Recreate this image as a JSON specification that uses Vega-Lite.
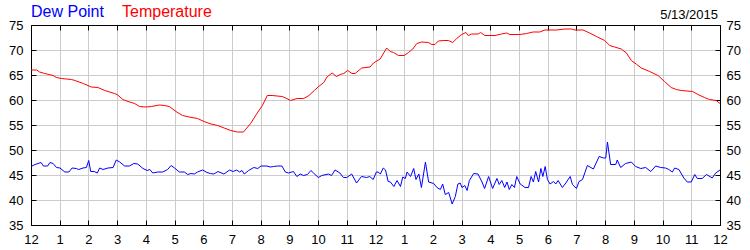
{
  "$schema": "https://vega.github.io/schema/vega-lite/v6.json",
  "width": 689,
  "height": 200,
  "autosize": {"type": "none"},
  "padding": {"left": 31, "top": 25, "right": 30, "bottom": 25},
  "background": "white",
  "config": {
    "view": {"stroke": "black", "strokeWidth": 1},
    "font": "Liberation Sans",
    "axis": {
      "labelFont": "Liberation Sans",
      "labelFontSize": 13,
      "labelColor": "black",
      "tickColor": "black",
      "domainColor": "black",
      "gridColor": "#cccccc",
      "gridOpacity": 1,
      "title": null,
      "labelFlush": false,
      "labelOverlap": false
    }
  },
  "title": {
    "text": "5/13/2015",
    "anchor": "end",
    "frame": "group",
    "offset": 0,
    "baseline": "alphabetic",
    "dy": 28,
    "dx": -2,
    "fontSize": 13,
    "fontWeight": "normal",
    "font": "Liberation Sans",
    "color": "black"
  },
  "data": {
    "values": [
      {"s": "Temperature", "h": 0, "v": 66.0},
      {"s": "Temperature", "h": 0.2, "v": 66.0},
      {"s": "Temperature", "h": 0.3, "v": 65.6},
      {"s": "Temperature", "h": 0.48, "v": 65.3},
      {"s": "Temperature", "h": 0.77, "v": 64.9},
      {"s": "Temperature", "h": 0.89, "v": 64.5},
      {"s": "Temperature", "h": 1.06, "v": 64.3},
      {"s": "Temperature", "h": 1.41, "v": 64.1},
      {"s": "Temperature", "h": 1.53, "v": 63.9},
      {"s": "Temperature", "h": 1.82, "v": 63.3},
      {"s": "Temperature", "h": 2.1, "v": 62.6},
      {"s": "Temperature", "h": 2.33, "v": 62.5},
      {"s": "Temperature", "h": 2.57, "v": 61.9},
      {"s": "Temperature", "h": 2.91, "v": 61.3},
      {"s": "Temperature", "h": 3.0, "v": 61.1},
      {"s": "Temperature", "h": 3.2, "v": 60.1},
      {"s": "Temperature", "h": 3.38, "v": 59.7},
      {"s": "Temperature", "h": 3.61, "v": 59.3},
      {"s": "Temperature", "h": 3.78, "v": 58.7},
      {"s": "Temperature", "h": 4.01, "v": 58.6},
      {"s": "Temperature", "h": 4.19, "v": 58.7},
      {"s": "Temperature", "h": 4.47, "v": 59.0},
      {"s": "Temperature", "h": 4.65, "v": 58.9},
      {"s": "Temperature", "h": 4.82, "v": 58.7},
      {"s": "Temperature", "h": 5.05, "v": 57.7},
      {"s": "Temperature", "h": 5.28, "v": 56.9},
      {"s": "Temperature", "h": 5.51, "v": 56.6},
      {"s": "Temperature", "h": 5.8, "v": 56.3},
      {"s": "Temperature", "h": 6.03, "v": 55.7},
      {"s": "Temperature", "h": 6.27, "v": 55.2},
      {"s": "Temperature", "h": 6.5, "v": 54.9},
      {"s": "Temperature", "h": 6.73, "v": 54.4},
      {"s": "Temperature", "h": 6.96, "v": 53.9},
      {"s": "Temperature", "h": 7.19, "v": 53.6},
      {"s": "Temperature", "h": 7.4, "v": 53.6},
      {"s": "Temperature", "h": 7.65, "v": 55.3},
      {"s": "Temperature", "h": 7.88, "v": 57.4},
      {"s": "Temperature", "h": 8.06, "v": 58.9},
      {"s": "Temperature", "h": 8.23, "v": 60.9},
      {"s": "Temperature", "h": 8.4, "v": 60.9},
      {"s": "Temperature", "h": 8.75, "v": 60.7},
      {"s": "Temperature", "h": 8.87, "v": 60.4},
      {"s": "Temperature", "h": 9.04, "v": 59.9},
      {"s": "Temperature", "h": 9.27, "v": 60.3},
      {"s": "Temperature", "h": 9.5, "v": 60.3},
      {"s": "Temperature", "h": 9.68, "v": 60.9},
      {"s": "Temperature", "h": 9.87, "v": 61.9},
      {"s": "Temperature", "h": 10.02, "v": 62.7},
      {"s": "Temperature", "h": 10.2, "v": 63.5},
      {"s": "Temperature", "h": 10.31, "v": 64.6},
      {"s": "Temperature", "h": 10.49, "v": 65.4},
      {"s": "Temperature", "h": 10.64, "v": 64.7},
      {"s": "Temperature", "h": 10.77, "v": 65.1},
      {"s": "Temperature", "h": 10.89, "v": 65.3},
      {"s": "Temperature", "h": 11.03, "v": 65.9},
      {"s": "Temperature", "h": 11.18, "v": 65.3},
      {"s": "Temperature", "h": 11.29, "v": 65.3},
      {"s": "Temperature", "h": 11.52, "v": 66.4},
      {"s": "Temperature", "h": 11.81, "v": 66.6},
      {"s": "Temperature", "h": 11.93, "v": 67.4},
      {"s": "Temperature", "h": 12.16, "v": 68.2},
      {"s": "Temperature", "h": 12.39, "v": 70.4},
      {"s": "Temperature", "h": 12.51, "v": 69.7},
      {"s": "Temperature", "h": 12.63, "v": 69.5},
      {"s": "Temperature", "h": 12.8, "v": 68.9},
      {"s": "Temperature", "h": 13.0, "v": 68.9},
      {"s": "Temperature", "h": 13.15, "v": 69.5},
      {"s": "Temperature", "h": 13.3, "v": 70.2},
      {"s": "Temperature", "h": 13.44, "v": 71.3},
      {"s": "Temperature", "h": 13.61, "v": 71.6},
      {"s": "Temperature", "h": 13.84, "v": 71.5},
      {"s": "Temperature", "h": 13.96, "v": 71.1},
      {"s": "Temperature", "h": 14.07, "v": 71.1},
      {"s": "Temperature", "h": 14.19, "v": 71.8},
      {"s": "Temperature", "h": 14.36, "v": 71.9},
      {"s": "Temperature", "h": 14.54, "v": 71.9},
      {"s": "Temperature", "h": 14.69, "v": 71.5},
      {"s": "Temperature", "h": 14.83, "v": 72.3},
      {"s": "Temperature", "h": 15.0, "v": 73.1},
      {"s": "Temperature", "h": 15.15, "v": 73.5},
      {"s": "Temperature", "h": 15.23, "v": 72.9},
      {"s": "Temperature", "h": 15.35, "v": 73.2},
      {"s": "Temperature", "h": 15.58, "v": 73.2},
      {"s": "Temperature", "h": 15.66, "v": 73.5},
      {"s": "Temperature", "h": 15.81, "v": 72.9},
      {"s": "Temperature", "h": 16.16, "v": 72.9},
      {"s": "Temperature", "h": 16.39, "v": 73.2},
      {"s": "Temperature", "h": 16.57, "v": 73.4},
      {"s": "Temperature", "h": 16.68, "v": 73.1},
      {"s": "Temperature", "h": 17.03, "v": 73.1},
      {"s": "Temperature", "h": 17.26, "v": 73.3},
      {"s": "Temperature", "h": 17.49, "v": 73.6},
      {"s": "Temperature", "h": 17.72, "v": 73.6},
      {"s": "Temperature", "h": 17.9, "v": 74.0},
      {"s": "Temperature", "h": 18.3, "v": 74.0},
      {"s": "Temperature", "h": 18.6, "v": 74.2},
      {"s": "Temperature", "h": 18.83, "v": 74.2},
      {"s": "Temperature", "h": 18.94, "v": 74.0},
      {"s": "Temperature", "h": 19.23, "v": 74.0},
      {"s": "Temperature", "h": 19.46, "v": 73.4},
      {"s": "Temperature", "h": 19.7, "v": 72.7},
      {"s": "Temperature", "h": 19.98, "v": 71.9},
      {"s": "Temperature", "h": 20.16, "v": 70.9},
      {"s": "Temperature", "h": 20.33, "v": 70.6},
      {"s": "Temperature", "h": 20.56, "v": 70.2},
      {"s": "Temperature", "h": 20.74, "v": 69.4},
      {"s": "Temperature", "h": 20.91, "v": 67.9},
      {"s": "Temperature", "h": 21.08, "v": 67.2},
      {"s": "Temperature", "h": 21.26, "v": 66.4},
      {"s": "Temperature", "h": 21.55, "v": 65.7},
      {"s": "Temperature", "h": 21.84, "v": 64.9},
      {"s": "Temperature", "h": 22.07, "v": 63.7},
      {"s": "Temperature", "h": 22.3, "v": 62.5},
      {"s": "Temperature", "h": 22.48, "v": 62.1},
      {"s": "Temperature", "h": 22.65, "v": 61.9},
      {"s": "Temperature", "h": 23.05, "v": 61.7},
      {"s": "Temperature", "h": 23.23, "v": 61.1},
      {"s": "Temperature", "h": 23.46, "v": 60.5},
      {"s": "Temperature", "h": 23.63, "v": 60.1},
      {"s": "Temperature", "h": 23.87, "v": 59.9},
      {"s": "Temperature", "h": 24, "v": 59.3},
      {"s": "Dew Point", "h": 0, "v": 46.7},
      {"s": "Dew Point", "h": 0.14, "v": 47.1},
      {"s": "Dew Point", "h": 0.35, "v": 47.5},
      {"s": "Dew Point", "h": 0.43, "v": 46.8},
      {"s": "Dew Point", "h": 0.58, "v": 46.8},
      {"s": "Dew Point", "h": 0.66, "v": 47.5},
      {"s": "Dew Point", "h": 0.77, "v": 47.3},
      {"s": "Dew Point", "h": 0.89, "v": 46.5},
      {"s": "Dew Point", "h": 1.01, "v": 46.4},
      {"s": "Dew Point", "h": 1.18, "v": 45.6},
      {"s": "Dew Point", "h": 1.32, "v": 45.6},
      {"s": "Dew Point", "h": 1.43, "v": 46.4},
      {"s": "Dew Point", "h": 1.58, "v": 46.3},
      {"s": "Dew Point", "h": 1.66, "v": 46.1},
      {"s": "Dew Point", "h": 1.81, "v": 46.4},
      {"s": "Dew Point", "h": 1.93, "v": 46.5},
      {"s": "Dew Point", "h": 2.01, "v": 47.9},
      {"s": "Dew Point", "h": 2.08, "v": 45.7},
      {"s": "Dew Point", "h": 2.2, "v": 45.7},
      {"s": "Dew Point", "h": 2.31, "v": 45.4},
      {"s": "Dew Point", "h": 2.39, "v": 46.4},
      {"s": "Dew Point", "h": 2.51, "v": 46.1},
      {"s": "Dew Point", "h": 2.68, "v": 46.4},
      {"s": "Dew Point", "h": 2.86, "v": 46.5},
      {"s": "Dew Point", "h": 2.97, "v": 48.0},
      {"s": "Dew Point", "h": 3.09, "v": 47.6},
      {"s": "Dew Point", "h": 3.26, "v": 46.8},
      {"s": "Dew Point", "h": 3.43, "v": 46.8},
      {"s": "Dew Point", "h": 3.58, "v": 47.3},
      {"s": "Dew Point", "h": 3.72, "v": 47.2},
      {"s": "Dew Point", "h": 3.9, "v": 46.3},
      {"s": "Dew Point", "h": 4.05, "v": 45.9},
      {"s": "Dew Point", "h": 4.14, "v": 46.1},
      {"s": "Dew Point", "h": 4.24, "v": 45.4},
      {"s": "Dew Point", "h": 4.42, "v": 45.6},
      {"s": "Dew Point", "h": 4.59, "v": 45.6},
      {"s": "Dew Point", "h": 4.76, "v": 46.1},
      {"s": "Dew Point", "h": 4.88, "v": 46.9},
      {"s": "Dew Point", "h": 5.0, "v": 46.4},
      {"s": "Dew Point", "h": 5.17, "v": 45.6},
      {"s": "Dew Point", "h": 5.34, "v": 45.6},
      {"s": "Dew Point", "h": 5.46, "v": 45.1},
      {"s": "Dew Point", "h": 5.57, "v": 45.3},
      {"s": "Dew Point", "h": 5.69, "v": 45.2},
      {"s": "Dew Point", "h": 5.8, "v": 45.6},
      {"s": "Dew Point", "h": 5.98, "v": 46.0},
      {"s": "Dew Point", "h": 6.13, "v": 45.5},
      {"s": "Dew Point", "h": 6.25, "v": 45.3},
      {"s": "Dew Point", "h": 6.37, "v": 45.2},
      {"s": "Dew Point", "h": 6.51, "v": 45.7},
      {"s": "Dew Point", "h": 6.72, "v": 45.2},
      {"s": "Dew Point", "h": 6.92, "v": 46.0},
      {"s": "Dew Point", "h": 7.04, "v": 45.7},
      {"s": "Dew Point", "h": 7.16, "v": 46.0},
      {"s": "Dew Point", "h": 7.27, "v": 45.6},
      {"s": "Dew Point", "h": 7.35, "v": 45.9},
      {"s": "Dew Point", "h": 7.43, "v": 45.2},
      {"s": "Dew Point", "h": 7.58, "v": 45.9},
      {"s": "Dew Point", "h": 7.76, "v": 46.5},
      {"s": "Dew Point", "h": 7.9, "v": 46.3},
      {"s": "Dew Point", "h": 8.01, "v": 46.8},
      {"s": "Dew Point", "h": 8.22, "v": 46.8},
      {"s": "Dew Point", "h": 8.33, "v": 46.6},
      {"s": "Dew Point", "h": 8.45, "v": 46.7},
      {"s": "Dew Point", "h": 8.59, "v": 46.8},
      {"s": "Dew Point", "h": 8.74, "v": 46.8},
      {"s": "Dew Point", "h": 8.86, "v": 45.6},
      {"s": "Dew Point", "h": 8.97, "v": 45.4},
      {"s": "Dew Point", "h": 9.14, "v": 45.7},
      {"s": "Dew Point", "h": 9.26, "v": 44.7},
      {"s": "Dew Point", "h": 9.38, "v": 45.2},
      {"s": "Dew Point", "h": 9.49, "v": 44.9},
      {"s": "Dew Point", "h": 9.63, "v": 45.1},
      {"s": "Dew Point", "h": 9.75, "v": 45.9},
      {"s": "Dew Point", "h": 9.84, "v": 45.4},
      {"s": "Dew Point", "h": 10.01, "v": 44.5},
      {"s": "Dew Point", "h": 10.13, "v": 44.9},
      {"s": "Dew Point", "h": 10.36, "v": 45.2},
      {"s": "Dew Point", "h": 10.47, "v": 44.9},
      {"s": "Dew Point", "h": 10.59, "v": 46.0},
      {"s": "Dew Point", "h": 10.76, "v": 45.4},
      {"s": "Dew Point", "h": 10.88, "v": 44.5},
      {"s": "Dew Point", "h": 11.0, "v": 44.5},
      {"s": "Dew Point", "h": 11.17, "v": 45.2},
      {"s": "Dew Point", "h": 11.34, "v": 43.4},
      {"s": "Dew Point", "h": 11.51, "v": 44.7},
      {"s": "Dew Point", "h": 11.69, "v": 44.5},
      {"s": "Dew Point", "h": 11.8, "v": 44.7},
      {"s": "Dew Point", "h": 11.92, "v": 44.1},
      {"s": "Dew Point", "h": 12.03, "v": 45.6},
      {"s": "Dew Point", "h": 12.09, "v": 45.6},
      {"s": "Dew Point", "h": 12.17, "v": 45.2},
      {"s": "Dew Point", "h": 12.27, "v": 46.4},
      {"s": "Dew Point", "h": 12.35, "v": 46.0},
      {"s": "Dew Point", "h": 12.44, "v": 43.7},
      {"s": "Dew Point", "h": 12.52, "v": 43.6},
      {"s": "Dew Point", "h": 12.64, "v": 42.7},
      {"s": "Dew Point", "h": 12.75, "v": 43.9},
      {"s": "Dew Point", "h": 12.87, "v": 42.7},
      {"s": "Dew Point", "h": 12.95, "v": 44.6},
      {"s": "Dew Point", "h": 13.04, "v": 44.3},
      {"s": "Dew Point", "h": 13.1, "v": 45.6},
      {"s": "Dew Point", "h": 13.22, "v": 44.7},
      {"s": "Dew Point", "h": 13.33, "v": 46.3},
      {"s": "Dew Point", "h": 13.41, "v": 44.1},
      {"s": "Dew Point", "h": 13.51, "v": 45.2},
      {"s": "Dew Point", "h": 13.6, "v": 42.5},
      {"s": "Dew Point", "h": 13.74, "v": 47.6},
      {"s": "Dew Point", "h": 13.85, "v": 43.6},
      {"s": "Dew Point", "h": 14.03, "v": 43.3},
      {"s": "Dew Point", "h": 14.14, "v": 42.5},
      {"s": "Dew Point", "h": 14.26, "v": 42.1},
      {"s": "Dew Point", "h": 14.34, "v": 43.2},
      {"s": "Dew Point", "h": 14.43, "v": 41.1},
      {"s": "Dew Point", "h": 14.55, "v": 41.5},
      {"s": "Dew Point", "h": 14.67, "v": 39.2},
      {"s": "Dew Point", "h": 14.78, "v": 40.7},
      {"s": "Dew Point", "h": 14.87, "v": 43.2},
      {"s": "Dew Point", "h": 14.95, "v": 43.4},
      {"s": "Dew Point", "h": 15.01, "v": 42.5},
      {"s": "Dew Point", "h": 15.11, "v": 42.9},
      {"s": "Dew Point", "h": 15.19, "v": 41.9},
      {"s": "Dew Point", "h": 15.27, "v": 43.9},
      {"s": "Dew Point", "h": 15.42, "v": 45.3},
      {"s": "Dew Point", "h": 15.57, "v": 45.2},
      {"s": "Dew Point", "h": 15.71, "v": 43.6},
      {"s": "Dew Point", "h": 15.8, "v": 42.3},
      {"s": "Dew Point", "h": 15.94, "v": 44.7},
      {"s": "Dew Point", "h": 16.08, "v": 42.3},
      {"s": "Dew Point", "h": 16.23, "v": 44.3},
      {"s": "Dew Point", "h": 16.31, "v": 43.1},
      {"s": "Dew Point", "h": 16.4, "v": 43.9},
      {"s": "Dew Point", "h": 16.5, "v": 42.5},
      {"s": "Dew Point", "h": 16.58, "v": 43.6},
      {"s": "Dew Point", "h": 16.66, "v": 42.1},
      {"s": "Dew Point", "h": 16.75, "v": 43.1},
      {"s": "Dew Point", "h": 16.84, "v": 42.5},
      {"s": "Dew Point", "h": 16.92, "v": 44.7},
      {"s": "Dew Point", "h": 17.04, "v": 43.2},
      {"s": "Dew Point", "h": 17.21, "v": 42.5},
      {"s": "Dew Point", "h": 17.33, "v": 42.5},
      {"s": "Dew Point", "h": 17.42, "v": 44.7},
      {"s": "Dew Point", "h": 17.5, "v": 43.6},
      {"s": "Dew Point", "h": 17.58, "v": 45.7},
      {"s": "Dew Point", "h": 17.68, "v": 43.6},
      {"s": "Dew Point", "h": 17.76, "v": 46.3},
      {"s": "Dew Point", "h": 17.83, "v": 44.7},
      {"s": "Dew Point", "h": 17.91, "v": 46.7},
      {"s": "Dew Point", "h": 17.99, "v": 44.1},
      {"s": "Dew Point", "h": 18.08, "v": 43.2},
      {"s": "Dew Point", "h": 18.2, "v": 43.7},
      {"s": "Dew Point", "h": 18.28, "v": 43.2},
      {"s": "Dew Point", "h": 18.36, "v": 43.9},
      {"s": "Dew Point", "h": 18.51, "v": 42.5},
      {"s": "Dew Point", "h": 18.63, "v": 43.4},
      {"s": "Dew Point", "h": 18.78, "v": 44.7},
      {"s": "Dew Point", "h": 18.86, "v": 43.1},
      {"s": "Dew Point", "h": 19.0, "v": 42.3},
      {"s": "Dew Point", "h": 19.09, "v": 43.7},
      {"s": "Dew Point", "h": 19.21, "v": 44.1},
      {"s": "Dew Point", "h": 19.38, "v": 46.9},
      {"s": "Dew Point", "h": 19.59, "v": 46.2},
      {"s": "Dew Point", "h": 19.79, "v": 48.7},
      {"s": "Dew Point", "h": 19.94, "v": 48.4},
      {"s": "Dew Point", "h": 20.02, "v": 48.4},
      {"s": "Dew Point", "h": 20.08, "v": 51.6},
      {"s": "Dew Point", "h": 20.19, "v": 47.1},
      {"s": "Dew Point", "h": 20.37, "v": 47.1},
      {"s": "Dew Point", "h": 20.42, "v": 48.0},
      {"s": "Dew Point", "h": 20.54, "v": 46.5},
      {"s": "Dew Point", "h": 20.71, "v": 47.3},
      {"s": "Dew Point", "h": 20.91, "v": 47.6},
      {"s": "Dew Point", "h": 21.06, "v": 46.7},
      {"s": "Dew Point", "h": 21.24, "v": 46.3},
      {"s": "Dew Point", "h": 21.41, "v": 46.5},
      {"s": "Dew Point", "h": 21.59, "v": 45.7},
      {"s": "Dew Point", "h": 21.76, "v": 46.8},
      {"s": "Dew Point", "h": 21.93, "v": 46.5},
      {"s": "Dew Point", "h": 22.1, "v": 46.4},
      {"s": "Dew Point", "h": 22.22, "v": 46.1},
      {"s": "Dew Point", "h": 22.34, "v": 45.6},
      {"s": "Dew Point", "h": 22.42, "v": 46.4},
      {"s": "Dew Point", "h": 22.57, "v": 46.1},
      {"s": "Dew Point", "h": 22.74, "v": 44.4},
      {"s": "Dew Point", "h": 22.86, "v": 43.6},
      {"s": "Dew Point", "h": 23.0, "v": 43.6},
      {"s": "Dew Point", "h": 23.12, "v": 45.1},
      {"s": "Dew Point", "h": 23.21, "v": 44.3},
      {"s": "Dew Point", "h": 23.38, "v": 44.3},
      {"s": "Dew Point", "h": 23.53, "v": 45.1},
      {"s": "Dew Point", "h": 23.73, "v": 44.4},
      {"s": "Dew Point", "h": 23.85, "v": 45.4},
      {"s": "Dew Point", "h": 24, "v": 46.0}
    ]
  },
  "layer": [
    {
      "transform": [{"filter": "datum.s == 'Temperature'"}],
      "mark": {"type": "line", "strokeWidth": 1, "interpolate": "linear"},
      "encoding": {
        "x": {
          "field": "h", "type": "quantitative",
          "scale": {"domain": [0, 24], "nice": false, "zero": false},
          "axis": {
            "orient": "bottom",
            "values": [0,1,2,3,4,5,6,7,8,9,10,11,12,13,14,15,16,17,18,19,20,21,22,23,24],
            "labelExpr": "datum.value % 12 == 0 ? '12' : '' + (datum.value % 12)",
            "grid": true,
            "tickSize": -5,
            "labelPadding": 13
          }
        },
        "y": {
          "field": "v", "type": "quantitative",
          "scale": {"domain": [35, 75], "nice": false, "zero": false},
          "axis": {
            "orient": "left",
            "values": [35,40,45,50,55,60,65,70,75],
            "grid": true,
            "tickSize": -5,
            "labelPadding": 13
          }
        },
        "color": {
          "field": "s", "type": "nominal",
          "scale": {"domain": ["Dew Point", "Temperature"], "range": ["#0000ff", "#ff0000"]},
          "legend": {
            "orient": "none",
            "legendX": -16,
            "legendY": -21,
            "direction": "horizontal",
            "title": null,
            "symbolSize": 0,
            "symbolStrokeWidth": 0,
            "symbolOpacity": 0,
            "labelFontSize": 16,
            "labelFont": "Liberation Sans",
            "labelOffset": 0,
            "columnPadding": 2,
            "padding": 0,
            "labelColor": {"expr": "datum.label == 'Dew Point' ? '#0000ff' : '#ff0000'"}
          }
        }
      }
    },
    {
      "transform": [{"filter": "datum.s == 'Dew Point'"}],
      "mark": {"type": "line", "strokeWidth": 1, "interpolate": "linear"},
      "encoding": {
        "x": {
          "field": "h", "type": "quantitative",
          "axis": {
            "orient": "top",
            "values": [0,1,2,3,4,5,6,7,8,9,10,11,12,13,14,15,16,17,18,19,20,21,22,23,24],
            "labels": false,
            "grid": false,
            "tickSize": -5
          }
        },
        "y": {
          "field": "v", "type": "quantitative",
          "axis": {
            "orient": "right",
            "values": [35,40,45,50,55,60,65,70,75],
            "grid": false,
            "tickSize": -5,
            "labelPadding": 11
          }
        },
        "color": {"field": "s", "type": "nominal"}
      }
    }
  ],
  "resolve": {"axis": {"x": "independent", "y": "independent"}}
}
